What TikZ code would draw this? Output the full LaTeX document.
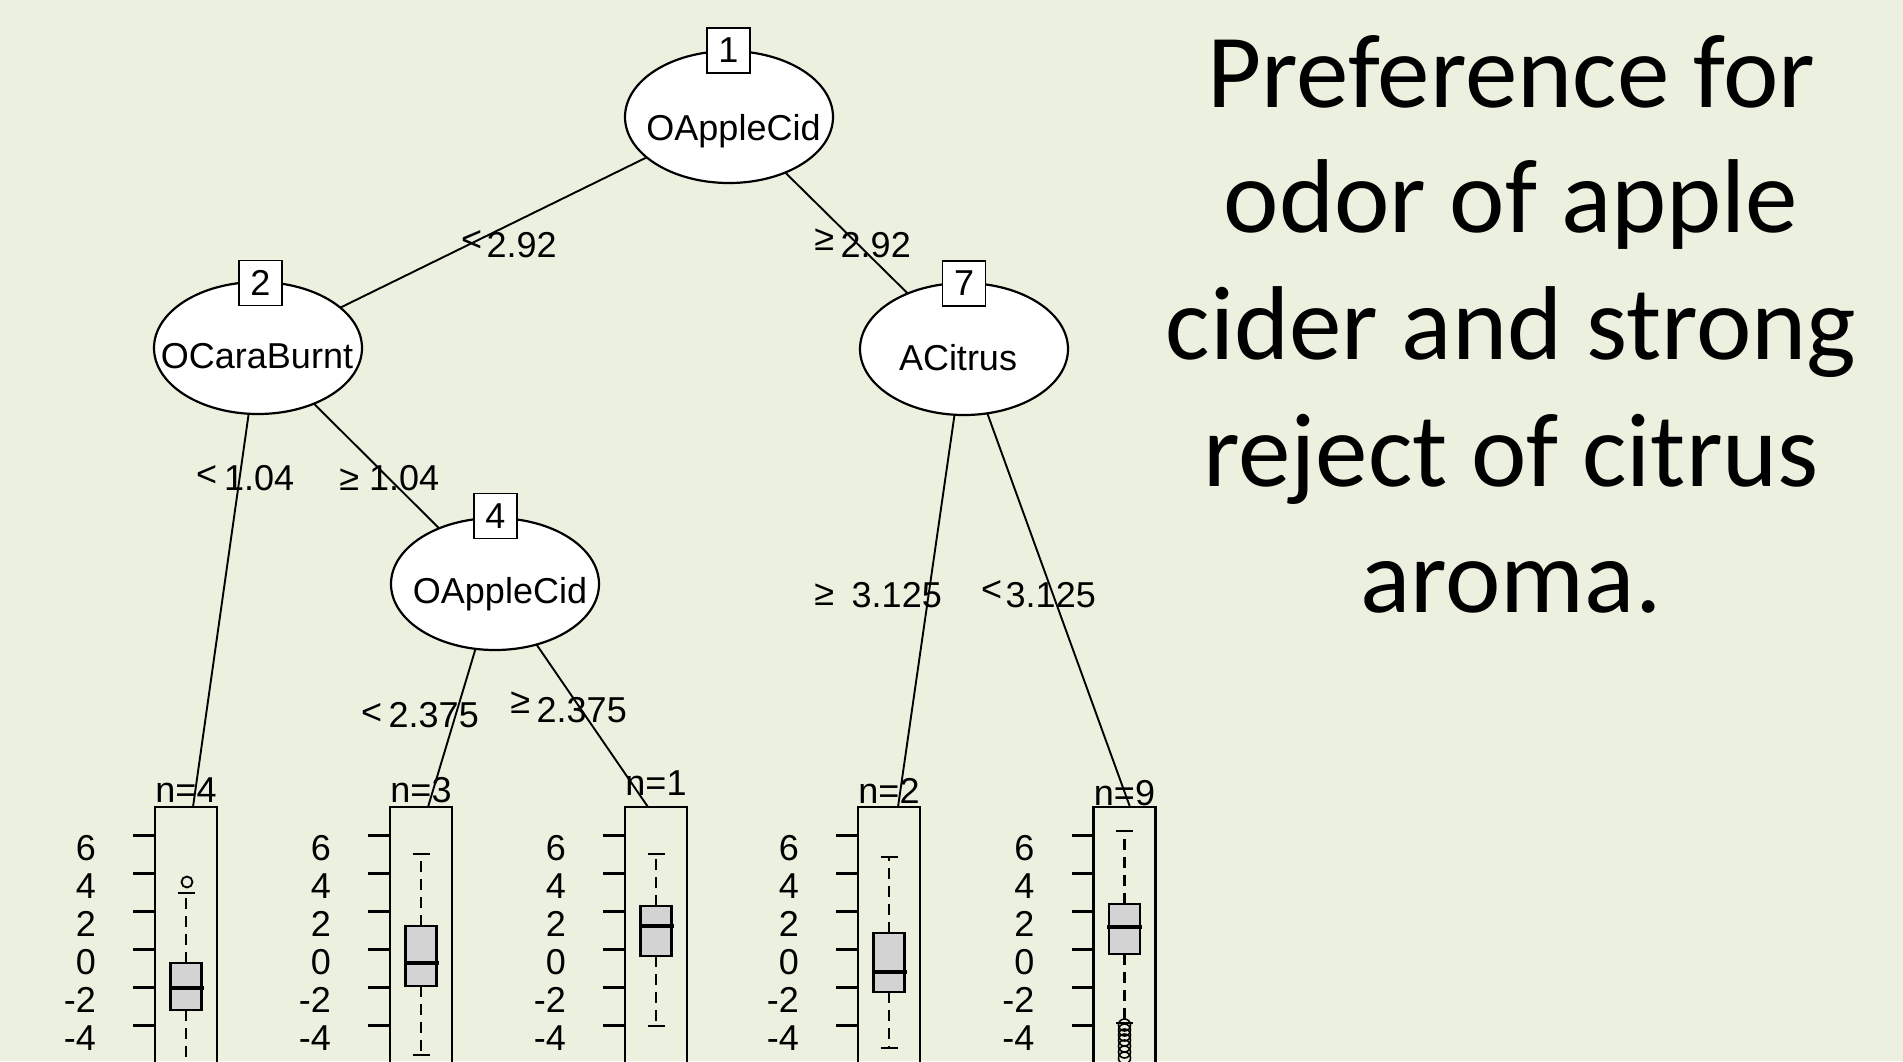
\documentclass[tikz,border=0pt]{standalone}
\usepackage{fontspec}
\setmainfont{Liberation Sans}
\newfontfamily\titlefont{Carlito}
\usetikzlibrary{shapes.geometric}
\definecolor{paper}{RGB}{235,240,223}
\definecolor{boxgray}{RGB}{211,211,211}
\pgfdeclarelayer{paperlayer}
\pgfdeclarelayer{edgelayer}
\pgfsetlayers{paperlayer,edgelayer,main}
\newcommand\labfont{\fontsize{36}{40}\selectfont}
% y axis of a terminal panel: #1 name prefix, #2 x of the panel's left side
\newcommand\leafaxis[2]{%
  \foreach \v [count=\i] in {6,4,2,0,-2,-4}{%
    \draw[tickline] ({#2-22},{949.5-19*(\v)}) -- ({#2},{949.5-19*(\v)});
    \node[lab,anchor=base east] (#1y\i) at ({#2-59},{974-19*(\v)}) {\v};
  }}
% terminal panel with boxplot:
% #1 name, #2 centre x, #3 upper cap, #4 Q3, #5 median, #6 Q1, #7 lower cap, #8 n label, #9 its baseline
\newcommand\leaf[9]{%
  \draw[panel] ({#2-31},1090) -- ({#2-31},807) -- ({#2+31},807) -- ({#2+31},1090);
  \leafaxis{#1}{#2-31}
  \draw[whisk] (#2,#4) -- (#2,#3);
  \draw[whisk] (#2,#6) -- (#2,#7);
  \draw[capline] ({#2-8.5},#3) -- ({#2+8.5},#3);
  \draw[capline] ({#2-8.5},#7) -- ({#2+8.5},#7);
  \draw[qbox] ({#2-15.5},#4) rectangle ({#2+15.5},#6);
  \draw[median] ({#2-17.5},#5) -- ({#2+17.5},#5);
  \node[lab,anchor=base] (#1n) at (#2,#9) {#8};
}
% split condition label: #1 name, #2 x, #3 baseline, #4 symbol, #5 raise, #6 gap, #7 value
\newcommand\cond[7]{%
  \node[lab,anchor=base west] (#1) at (#2,#3) {\llap{\raisebox{#5pt}{#4}\hspace{#6pt}}#7};}

\begin{document}
\begin{tikzpicture}[x=1pt,y=-1pt,
  split/.style={ellipse,draw,fill=white,line width=2.2pt,minimum width=208pt,minimum height=132pt,inner sep=0pt},
  idbox/.style={draw,fill=white,line width=1.8pt,minimum width=43pt,minimum height=45pt,inner sep=0pt,font=\labfont},
  lab/.style={inner sep=0pt,font=\labfont},
  edge/.style={line width=1.9pt},
  panel/.style={line width=2.4pt},
  tickline/.style={line width=2.4pt},
  whisk/.style={line width=2.2pt,dash pattern=on 11pt off 7pt},
  capline/.style={line width=2.2pt},
  qbox/.style={draw,fill=boxgray,line width=2.2pt},
  median/.style={line width=4.5pt},
  title/.style={inner sep=0pt,font=\titlefont\fontsize{105}{126}\selectfont,anchor=base}]

\useasboundingbox (0,0) rectangle (1903,1061);
\begin{pgfonlayer}{paperlayer}
  \fill[paper] (0,0) rectangle (1903,1061);
\end{pgfonlayer}

% inner nodes
\node[split] (n1) at (729,117) {};
\node[split] (n2) at (258,348) {};
\node[split] (n7) at (964,349) {};
\node[split] (n4) at (495,584) {};
\node[lab,anchor=base] (n1t) at (733.5,140) {OAppleCid};
\node[lab,anchor=base] (n2t) at (257,368) {OCaraBurnt};
\node[lab,anchor=base] (n7t) at (958,370) {ACitrus};
\node[lab,anchor=base] (n4t) at (500,603) {OAppleCid};
\node[idbox] (b1) at (728.5,50.5) {1};
\node[idbox] (b2) at (260.5,283) {2};
\node[idbox] (b7) at (964,283.5) {7};
\node[idbox] (b4) at (495.5,516) {4};

% terminal panels
\coordinate (L1top) at (193,807);
\coordinate (L2top) at (428,807);
\coordinate (L3top) at (648,807);
\coordinate (L4top) at (898,807);
\coordinate (L5top) at (1130,807);
\begin{scope}
  \clip (0,0) rectangle (1903,1061);
  \leaf{L1}{186}{893}{963}{988}{1010}{1100}{n=4}{802}
  \leaf{L2}{421}{854}{926}{963}{986}{1055}{n=3}{802}
  \leaf{L3}{656}{854}{906}{926}{956}{1026}{n=1}{795}
  \leaf{L4}{889}{857}{933}{972}{992}{1048}{n=2}{803}
  \leaf{L5}{1124.5}{831}{904}{927}{954}{1023}{n=9}{805}
  \draw[line width=1.8pt] (187,882) circle (5.5pt);
  \foreach \yy in {1025,1030,1035,1040,1046,1052,1058}
    \draw[line width=1.6pt] (1124.5,\yy) circle (6pt);
\end{scope}

% connectors
\begin{pgfonlayer}{edgelayer}
  \draw[edge] (n1.center) -- (n2.center);
  \draw[edge] (n1.center) -- (n7.center);
  \draw[edge] (n2.center) -- (n4.center);
  \draw[edge] (n2.center) -- (L1top);
  \draw[edge] (n4.center) -- (L2top);
  \draw[edge] (n4.center) -- (L3top);
  \draw[edge] (n7.center) -- (L4top);
  \draw[edge] (n7.center) -- (L5top);
\end{pgfonlayer}

% split conditions
\cond{c12}{486.5}{257}{<}{5.5}{4.5}{2.92}
\cond{c17}{840.5}{257}{≥}{7}{6.5}{2.92}
\cond{c24l}{224}{490}{<}{3.5}{7}{1.04}
\cond{c24r}{369}{490}{≥}{0}{10}{1.04}
\cond{c4l}{388.5}{727}{<}{3}{6.5}{2.375}
\cond{c4r}{536.5}{722}{≥}{9}{6.5}{2.375}
\cond{c7l}{851.5}{607}{≥}{2}{17.5}{3.125}
\cond{c7r}{1005.5}{607}{<}{6}{3.5}{3.125}

% heading
\node[title] (t1) at (1511,107) {Preference for};
\node[title] (t2) at (1511,232) {odor of apple};
\node[title] (t3) at (1511,359) {cider and strong};
\node[title] (t4) at (1511,486) {reject of citrus};
\node[title] (t5) at (1511,612) {aroma.};
\end{tikzpicture}
\end{document}
